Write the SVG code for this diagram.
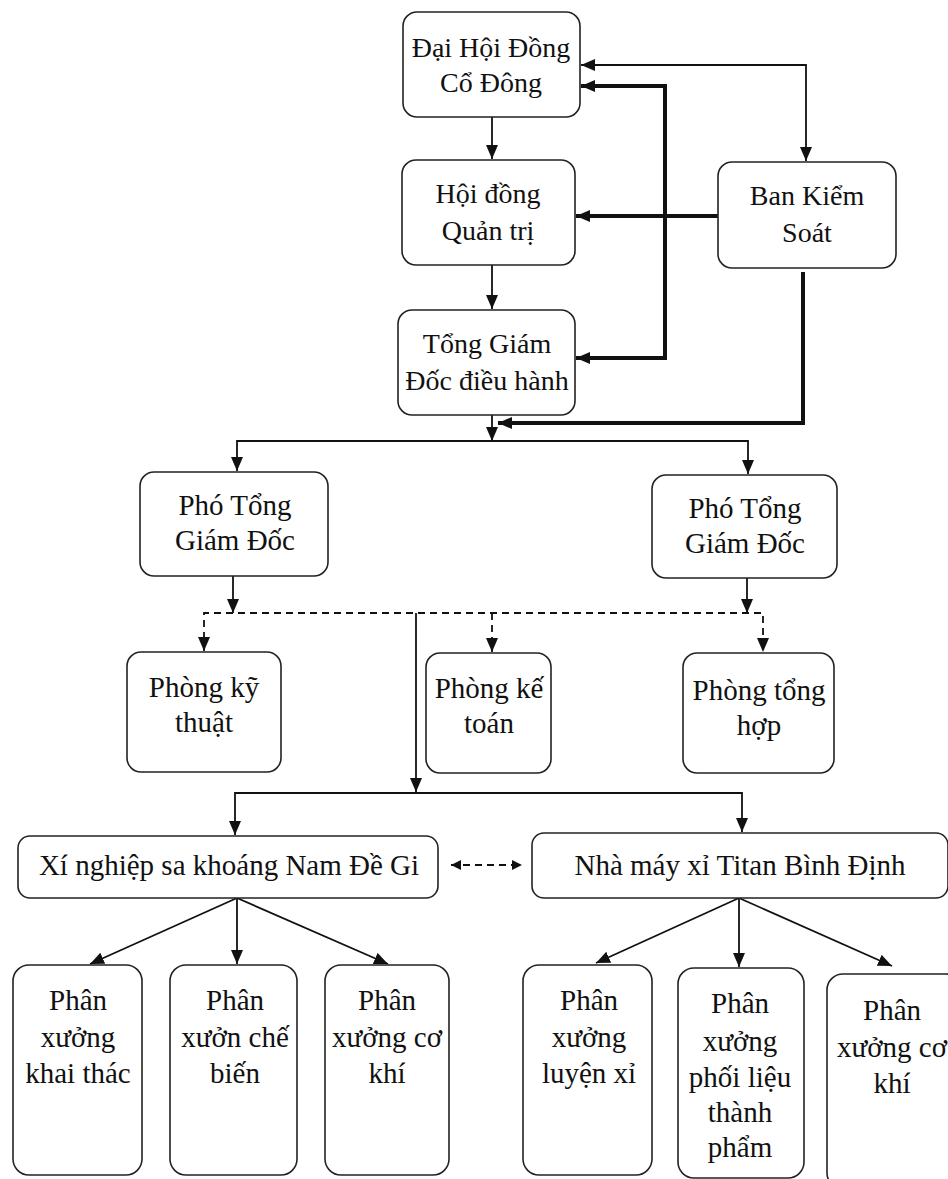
<svg xmlns="http://www.w3.org/2000/svg" width="948" height="1179" viewBox="0 0 948 1179">
<defs>
<marker id="ah" markerUnits="userSpaceOnUse" markerWidth="16" markerHeight="14" refX="14" refY="6" orient="auto-start-reverse">
<path d="M0,0 L14,6 L0,12 Z" fill="#111"/>
</marker>
<marker id="ahs" markerUnits="userSpaceOnUse" markerWidth="12" markerHeight="12" refX="10" refY="5" orient="auto-start-reverse">
<path d="M0,0 L10,5 L0,10 Z" fill="#111"/>
</marker>
</defs>
<style>
.box{fill:#fff;stroke:#222;stroke-width:1.6}
.t{font-family:"Liberation Serif","Times New Roman",serif;font-size:29px;fill:#111;text-anchor:middle}
.tt{font-size:28px}
.c{fill:none;stroke:#111;stroke-width:1.8}
.k{fill:none;stroke:#111;stroke-width:4}
.d{fill:none;stroke:#111;stroke-width:1.8;stroke-dasharray:7 5}
</style>
<rect width="948" height="1179" fill="#fff"/>
<g id="connectors">
<line class="c" x1="492" y1="117" x2="492" y2="159" marker-end="url(#ah)"/>
<line class="c" x1="492" y1="265" x2="492" y2="309" marker-end="url(#ah)"/>
<polyline class="c" points="581,65 806,65 806,161" marker-start="url(#ah)" marker-end="url(#ah)"/>
<polyline class="k" points="581,86 665,86 665,358 576,358" marker-start="url(#ah)" marker-end="url(#ah)"/>
<line class="k" x1="718" y1="216" x2="576" y2="216" marker-end="url(#ah)"/>
<polyline class="k" points="803,272 803,423 498,423" marker-end="url(#ah)"/>
<line class="c" x1="492" y1="415" x2="492" y2="441" marker-end="url(#ah)"/>
<polyline class="c" points="237,471 237,441 748,441 748,474" marker-start="url(#ah)" marker-end="url(#ah)"/>
<line class="c" x1="233" y1="576" x2="233" y2="613" marker-end="url(#ah)"/>
<line class="c" x1="747" y1="578" x2="747" y2="613" marker-end="url(#ah)"/>
<polyline class="d" points="204,651 204,613 763,613 763,652" marker-start="url(#ah)" marker-end="url(#ah)"/>
<line class="d" x1="492" y1="613" x2="492" y2="652" marker-end="url(#ah)"/>
<line class="c" x1="416" y1="613" x2="416" y2="792" marker-end="url(#ah)"/>
<polyline class="c" points="235,835 235,793 742,793 742,832" marker-start="url(#ah)" marker-end="url(#ah)"/>
<line class="d" x1="451" y1="865" x2="522" y2="865" stroke-dasharray="6 5" marker-start="url(#ahs)" marker-end="url(#ahs)"/>
<line class="c" x1="237" y1="898" x2="90" y2="964" marker-end="url(#ah)"/>
<line class="c" x1="237" y1="898" x2="237" y2="964" marker-end="url(#ah)"/>
<line class="c" x1="237" y1="898" x2="388" y2="964" marker-end="url(#ah)"/>
<line class="c" x1="739" y1="898" x2="596" y2="963" marker-end="url(#ah)"/>
<line class="c" x1="739" y1="898" x2="739" y2="967" marker-end="url(#ah)"/>
<line class="c" x1="739" y1="898" x2="892" y2="966" marker-end="url(#ah)"/>
</g>
<g id="n-dhdcd"><rect class="box" x="403" y="12" width="177" height="105" rx="14"/><text class="t tt" x="491" y="57">Đại Hội Đồng</text><text class="t tt" x="491" y="92">Cổ Đông</text></g>
<g id="n-hdqt"><rect class="box" x="402" y="160" width="173" height="105" rx="14"/><text class="t tt" x="488" y="203">Hội đồng</text><text class="t tt" x="488" y="240">Quản trị</text></g>
<g id="n-tgd"><rect class="box" x="398" y="310" width="177" height="105" rx="14"/><text class="t tt" x="487" y="353">Tổng Giám</text><text class="t tt" x="487" y="390">Đốc điều hành</text></g>
<g id="n-bks"><rect class="box" x="718" y="162" width="178" height="106" rx="14"/><text class="t tt" x="807" y="205">Ban Kiểm</text><text class="t tt" x="807" y="242">Soát</text></g>
<g id="n-ptgd1"><rect class="box" x="140" y="472" width="188" height="104" rx="14"/><text class="t" x="235" y="515">Phó Tổng</text><text class="t" x="235" y="550">Giám Đốc</text></g>
<g id="n-ptgd2"><rect class="box" x="652" y="475" width="185" height="103" rx="14"/><text class="t" x="745" y="518">Phó Tổng</text><text class="t" x="745" y="553">Giám Đốc</text></g>
<g id="n-pkt"><rect class="box" x="127" y="652" width="154" height="120" rx="14"/><text class="t" x="204" y="697">Phòng kỹ</text><text class="t" x="204" y="732">thuật</text></g>
<g id="n-pkto"><rect class="box" x="426" y="653" width="125" height="120" rx="14"/><text class="t" x="489" y="698">Phòng kế</text><text class="t" x="489" y="733">toán</text></g>
<g id="n-pth"><rect class="box" x="683" y="653" width="151" height="120" rx="14"/><text class="t" x="759" y="700">Phòng tổng</text><text class="t" x="759" y="735">hợp</text></g>
<g id="n-xn"><rect class="box" x="18" y="836" width="420" height="62" rx="12"/><text class="t" x="229" y="875">Xí nghiệp sa khoáng Nam Đề Gi</text></g>
<g id="n-nm"><rect class="box" x="532" y="833" width="416" height="65" rx="12"/><text class="t" x="740" y="875">Nhà máy xỉ Titan Bình Định</text></g>
<g id="n-kt"><rect class="box" x="13" y="965" width="129" height="210" rx="16"/><text class="t" x="78" y="1010">Phân</text><text class="t" x="78" y="1047">xưởng</text><text class="t" x="78" y="1083">khai thác</text></g>
<g id="n-cb"><rect class="box" x="170" y="965" width="127" height="210" rx="16"/><text class="t" x="235" y="1010">Phân</text><text class="t" x="235" y="1047">xưởn chế</text><text class="t" x="235" y="1083">biến</text></g>
<g id="n-ck1"><rect class="box" x="325" y="965" width="124" height="210" rx="16"/><text class="t" x="387" y="1010">Phân</text><text class="t" x="387" y="1047">xưởng cơ</text><text class="t" x="387" y="1083">khí</text></g>
<g id="n-lx"><rect class="box" x="523" y="965" width="129" height="210" rx="16"/><text class="t" x="589" y="1010">Phân</text><text class="t" x="589" y="1047">xưởng</text><text class="t" x="589" y="1083">luyện xỉ</text></g>
<g id="n-pl"><rect class="box" x="678" y="968" width="126" height="210" rx="16"/><text class="t" x="740" y="1013">Phân</text><text class="t" x="740" y="1051">xưởng</text><text class="t" x="740" y="1087">phối liệu</text><text class="t" x="740" y="1122">thành</text><text class="t" x="740" y="1157">phẩm</text></g>
<g id="n-ck2"><rect class="box" x="827" y="974" width="135" height="215" rx="16"/><text class="t" x="892" y="1020">Phân</text><text class="t" x="892" y="1057">xưởng cơ</text><text class="t" x="892" y="1093">khí</text></g>
</svg>
